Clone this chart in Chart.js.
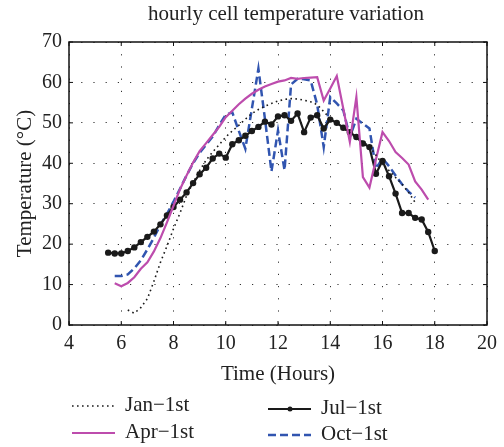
<!DOCTYPE html>
<html>
<head>
<meta charset="utf-8">
<script src="https://cdn.jsdelivr.net/npm/chart.js@4.4.0/dist/chart.umd.min.js"></script>
<style>
  html, body { margin: 0; padding: 0; background: #fff; }
</style>
</head>
<body>
<canvas id="tempChart" width="504" height="447"></canvas>
<script>
// 15-minute samples, 5:30 to 18:00
const hours = [5.5, 5.75, 6, 6.25, 6.5, 6.75, 7, 7.25, 7.5, 7.75,
  8, 8.25, 8.5, 8.75, 9, 9.25, 9.5, 9.75, 10, 10.25,
  10.5, 10.75, 11, 11.25, 11.5, 11.75, 12, 12.25, 12.5, 12.75,
  13, 13.25, 13.5, 13.75, 14, 14.25, 14.5, 14.75, 15, 15.25,
  15.5, 15.75, 16, 16.25, 16.5, 16.75, 17, 17.25, 17.5, 17.75, 18];

const janTemp = [null, null, null, 3.7, 2.9, 4.3, 6.5, 10.8, 15.5, 19.5,
  23.8, 27.7, 32.0, 35.2, 38.2, 40.8, 42.8, 44.6, 46.5, 48.0,
  49.4, 50.9, 52.3, 53.3, 54.1, 54.8, 55.4, 55.8, 56.0, 55.9,
  55.6, 55.2, 54.5, 52.8, 51.0, 49.9, 48.7, 47.5, 46.3, 45.3,
  44.2, 42.0, 39.8, 38.2, 36.5, 34.8, 32.8, 30.3, null, null, null];

const aprTemp = [null, 10.3, 9.6, 10.4, 11.8, 13.9, 15.5, 18.2, 21.5, 25.4,
  29.5, 33.6, 37.0, 40.2, 43.0, 45.0, 47.0, 49.0, 51.4, 53.0,
  54.6, 56.0, 57.2, 58.2, 59.0, 59.6, 60.2, 60.5, 61.1, 60.9,
  61.1, 61.2, 61.3, 55.5, 58.5, 61.6, 53.5, 45.3, 56.4, 36.6,
  34.0, 41.0, 47.7, 45.5, 42.8, 41.3, 39.7, 35.5, 33.5, 31.0, null];

const julTemp = [17.9, 17.7, 17.7, 18.3, 19.2, 20.5, 21.8, 23.1, 24.9, 27.1,
  29.2, 31.0, 32.8, 35.1, 37.3, 38.9, 41.2, 42.4, 41.4, 44.7,
  45.7, 46.8, 48.0, 49.0, 50.3, 49.6, 51.6, 51.9, 50.5, 52.3,
  47.7, 51.3, 51.9, 48.6, 50.8, 50.0, 48.8, 47.7, 46.5, 44.9,
  44.0, 37.4, 40.6, 36.8, 32.5, 27.7, 27.7, 26.5, 26.1, 23.0, 18.3];

const octTemp = [null, 12.1, 12.1, 12.5, 14.0, 16.0, 18.7, 21.6, 24.8, 27.5,
  30.5, 33.7, 37.0, 40.0, 42.6, 44.6, 46.6, 49.4, 52.0, 52.6,
  48.0, 43.6, 53.5, 63.4, 51.0, 38.0, 48.1, 38.3, 59.5, 60.9,
  60.8, 60.5, 54.5, 44.0, 56.4, 54.8, 53.1, 46.5, 51.0, 49.8,
  48.6, 38.7, 41.2, 39.3, 37.0, 34.8, 33.0, 31.5, null, null, null];

const seriesNames = ['Jan\u22121st', 'Apr\u22121st', 'Jul\u22121st', 'Oct\u22121st'];
const xTicks = [4, 6, 8, 10, 12, 14, 16, 18, 20];
const yTicks = [0, 10, 20, 30, 40, 50, 60, 70];
const chartTitle = 'hourly cell temperature variation';

const serif = '"Liberation Serif", "DejaVu Serif", serif';

function toPoints(values) {
  const pts = [];
  values.forEach((v, i) => { if (v !== null) pts.push({ x: hours[i], y: v }); });
  return pts;
}

// frame, inner ticks, title and a two-column legend like the original figure
const figurePlugin = {
  id: 'figure',
  afterDraw(chart) {
    const { ctx, chartArea: a, scales } = chart;
    ctx.save();
    ctx.strokeStyle = '#111';
    ctx.lineWidth = 1.5;
    ctx.strokeRect(a.left, a.top, a.right - a.left, a.bottom - a.top);

    ctx.lineWidth = 1;
    ctx.beginPath();
    xTicks.forEach(v => {
      const x = scales.x.getPixelForValue(v);
      ctx.moveTo(x, a.bottom); ctx.lineTo(x, a.bottom - 4);
      ctx.moveTo(x, a.top); ctx.lineTo(x, a.top + 4);
    });
    yTicks.forEach(v => {
      const y = scales.y.getPixelForValue(v);
      ctx.moveTo(a.left, y); ctx.lineTo(a.left + 4, y);
      ctx.moveTo(a.right, y); ctx.lineTo(a.right - 4, y);
    });
    ctx.stroke();

    ctx.fillStyle = '#222';
    ctx.font = '21px ' + serif;
    ctx.textAlign = 'center';
    ctx.textBaseline = 'middle';
    ctx.fillText(chartTitle, 286, 14);

    const slots = [
      { ds: 0, x: 72, y: 406 },
      { ds: 2, x: 268, y: 409 },
      { ds: 1, x: 72, y: 433 },
      { ds: 3, x: 268, y: 435 }
    ];
    ctx.textAlign = 'left';
    slots.forEach(s => {
      const d = chart.data.datasets[s.ds];
      ctx.save();
      ctx.strokeStyle = d.borderColor;
      ctx.lineWidth = d.borderWidth;
      ctx.setLineDash(d.borderDash || []);
      ctx.beginPath();
      ctx.moveTo(s.x, s.y);
      ctx.lineTo(s.x + 43, s.y);
      ctx.stroke();
      if (d.pointRadius > 0) {
        ctx.fillStyle = d.borderColor;
        ctx.beginPath();
        ctx.arc(s.x + 22, s.y, 2.5, 0, Math.PI * 2);
        ctx.fill();
      }
      ctx.restore();
      ctx.fillStyle = '#222';
      ctx.fillText(d.label, s.x + 53, s.y - 1);
    });
    ctx.restore();
  }
};

const ctx = document.getElementById('tempChart').getContext('2d');
const tempChart = new Chart(ctx, {
  type: 'line',
  data: {
    datasets: [
      {
        label: seriesNames[0],
        data: toPoints(janTemp),
        borderColor: '#1a1a1a',
        borderWidth: 1.6,
        borderDash: [1.6, 3.4],
        pointRadius: 0
      },
      {
        label: seriesNames[1],
        data: toPoints(aprTemp),
        borderColor: '#bd4cad',
        borderWidth: 2.2,
        pointRadius: 0
      },
      {
        label: seriesNames[2],
        data: toPoints(julTemp),
        borderColor: '#1a1a1a',
        backgroundColor: '#1a1a1a',
        borderWidth: 2.2,
        pointRadius: 3.2,
        pointBorderWidth: 0
      },
      {
        label: seriesNames[3],
        data: toPoints(octTemp),
        borderColor: '#3155b0',
        borderWidth: 2.5,
        borderDash: [8, 4],
        pointRadius: 0
      }
    ]
  },
  options: {
    responsive: false,
    animation: false,
    layout: { padding: { left: 0, right: 15, top: 42, bottom: 60 } },
    plugins: {
      legend: { display: false },
      tooltip: { enabled: false }
    },
    elements: { line: { tension: 0 } },
    scales: {
      x: {
        type: 'linear',
        min: 4,
        max: 20,
        afterBuildTicks: s => { s.ticks = xTicks.map(v => ({ value: v })); },
        afterFit: s => { s.height = 62; },
        grid: { color: '#333', lineWidth: 1, drawTicks: false },
        border: { display: false, dash: [1.2, 11] },
        ticks: { color: '#222', font: { family: serif, size: 20 }, padding: 7, maxRotation: 0 },
        title: { display: true, text: 'Time (Hours)', color: '#222', font: { family: serif, size: 21 }, padding: { top: 0, bottom: 0 } }
      },
      y: {
        min: 0,
        max: 70,
        afterBuildTicks: s => { s.ticks = yTicks.map(v => ({ value: v })); },
        afterFit: s => { s.width = 69; },
        grid: { color: '#333', lineWidth: 1, drawTicks: false },
        border: { display: false, dash: [1.2, 11] },
        ticks: { color: '#222', font: { family: serif, size: 20 }, padding: 7 },
        title: { display: true, text: 'Temperature (°C)', color: '#222', font: { family: serif, size: 21 }, padding: { top: 13, bottom: 0 } }
      }
    }
  },
  plugins: [figurePlugin]
});
</script>
</body>
</html>
